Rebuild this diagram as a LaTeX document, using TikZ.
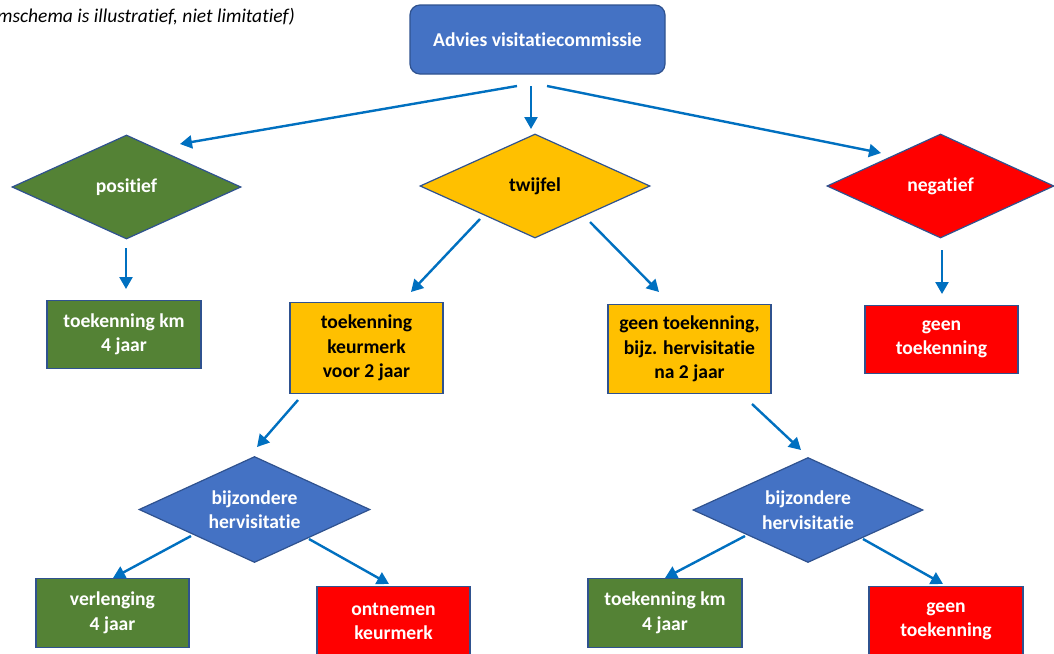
\documentclass[tikz,border=0pt]{standalone}
\usepackage{fontspec}
\setmainfont[RawFeature={-liga}]{Carlito}
\usetikzlibrary{shapes.geometric,arrows.meta}
\definecolor{blueF}{HTML}{4472C4}
\definecolor{edgeC}{HTML}{2F528F}
\definecolor{greenF}{HTML}{548235}
\definecolor{yellowF}{HTML}{FFC000}
\definecolor{redF}{HTML}{FF0000}
\definecolor{arrowC}{HTML}{0070C0}
\begin{document}
\begin{tikzpicture}[x=1pt,y=-1pt,
  base/.style={draw=edgeC, line width=1.2pt, font=\fontsize{19.6}{24.5}\selectfont\bfseries, align=center, inner sep=0pt},
  box/.style={base, rectangle},
  dia/.style={base, diamond, aspect=2.2},
  gr/.style={fill=greenF, text=white},
  bl/.style={fill=blueF, text=white},
  ye/.style={fill=yellowF, text=black},
  rd/.style={fill=redF, text=white},
  arr/.style={draw=arrowC, line width=2.4pt, -{Triangle[length=12pt,width=13pt]}},
  note/.style={font=\fontsize{19.5}{22}\selectfont\itshape, text=black, inner sep=0pt}
]
\useasboundingbox (0,0) rectangle (1054,653);
\fill[white] (0,0) rectangle (1054,653);

\node[note, anchor=base east] (nt) at (295,22) {mschema is illustratief, niet limitatief)};

\node[box, bl, rounded corners=10pt, minimum width=255pt, minimum height=69pt] (top) at (537.5,39.5) {Advies visitatiecommissie};

\node[dia, gr, minimum width=229pt, minimum height=104pt] (pos) at (126.5,187) {positief};
\node[dia, ye, minimum width=230pt, minimum height=104pt] (twi) at (535,186) {twijfel};
\node[dia, rd, minimum width=227pt, minimum height=104pt] (neg) at (940.5,186) {negatief};

\node[box, gr, minimum width=154pt, minimum height=68pt] (tk1) at (124,334.5) {toekenning km\\4 jaar};
\node[box, ye, minimum width=153pt, minimum height=91pt] (tk2) at (366.5,348) {toekenning\\keurmerk\\voor 2 jaar};
\node[box, ye, minimum width=163pt, minimum height=89pt] (gt1) at (689.5,349) {geen toekenning,\\bijz. hervisitatie\\na 2 jaar};
\node[box, rd, minimum width=153pt, minimum height=68pt] (gt2) at (941.5,339.5) {geen\\toekenning};

\node[dia, bl, minimum width=231pt, minimum height=106pt] (bh1) at (254.5,509.5) {bijzondere\\hervisitatie};
\node[dia, bl, minimum width=230pt, minimum height=105pt] (bh2) at (808,510) {bijzondere\\hervisitatie};

\node[box, gr, minimum width=153pt, minimum height=69pt] (vl) at (112.5,613) {verlenging\\4 jaar};
\node[box, rd, minimum width=153pt, minimum height=70pt] (ok) at (393.5,621.5) {ontnemen\\keurmerk};
\node[box, gr, minimum width=154pt, minimum height=69pt] (tk3) at (665,613) {toekenning km\\4 jaar};
\node[box, rd, minimum width=154pt, minimum height=70pt] (gt3) at (946,621.5) {geen\\toekenning};

% arrow end points
\coordinate (a1s) at (517,86);  \coordinate (a1e) at (180,144);
\coordinate (a2s) at (531,86);  \coordinate (a2e) at (531,129);
\coordinate (a3s) at (547,86);  \coordinate (a3e) at (881,153);
\coordinate (a4s) at (126,248); \coordinate (a4e) at (126,289);
\coordinate (a5s) at (942,250); \coordinate (a5e) at (942,294);
\coordinate (a6s) at (480,219); \coordinate (a6e) at (411,292);
\coordinate (a7s) at (590,222); \coordinate (a7e) at (659,292);
\coordinate (a8s) at (298,400); \coordinate (a8e) at (257,447);
\coordinate (a9s) at (752,404); \coordinate (a9e) at (801,450);
\coordinate (b1s) at (191,536); \coordinate (b1e) at (113,578);
\coordinate (b2s) at (309,539); \coordinate (b2e) at (389,584);
\coordinate (b3s) at (745,536); \coordinate (b3e) at (665,578);
\coordinate (b4s) at (863,539); \coordinate (b4e) at (943,584);

\draw[arr] (a1s) -- (a1e);
\draw[arr] (a2s) -- (a2e);
\draw[arr] (a3s) -- (a3e);
\draw[arr] (a4s) -- (a4e);
\draw[arr] (a5s) -- (a5e);
\draw[arr] (a6s) -- (a6e);
\draw[arr] (a7s) -- (a7e);
\draw[arr] (a8s) -- (a8e);
\draw[arr] (a9s) -- (a9e);
\draw[arr] (b1s) -- (b1e);
\draw[arr] (b2s) -- (b2e);
\draw[arr] (b3s) -- (b3e);
\draw[arr] (b4s) -- (b4e);
\end{tikzpicture}
\end{document}
